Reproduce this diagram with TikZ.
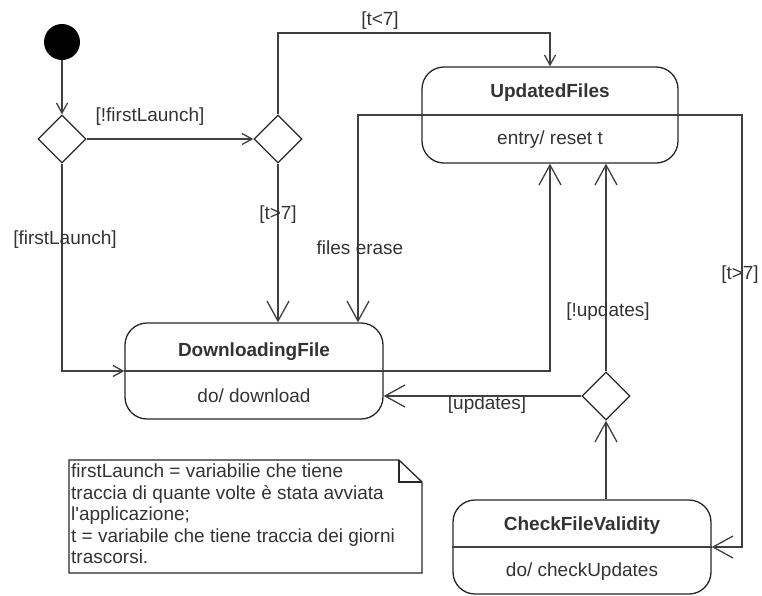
\documentclass[tikz,border=0pt]{standalone}
\usepackage{fontspec}
\setmainfont{Liberation Sans}[Ligatures=TeXOff]
\usetikzlibrary{arrows.meta,shapes.geometric,calc}
\begin{document}
\begin{tikzpicture}[x=1pt,y=-1pt,
  every node/.style={font=\fontsize{19}{21.5}\selectfont, text=black!80},
  line/.style={draw=black!75, line width=1.3pt},
  bigarrow/.style={line, -{Straight Barb[length=20pt,width=22pt,line width=1.3pt]}},
  smallarrow/.style={line, -{Straight Barb[length=10pt,width=11pt,line width=1.3pt]}},
  statebox/.style={draw=black!85, line width=1.3pt, rounded corners=22pt, minimum width=#1, minimum height=96pt, inner sep=0pt},
  choice/.style={diamond, draw=black!85, line width=1.3pt, minimum width=48pt, minimum height=48pt, inner sep=0pt},
  lbl/.style={inner sep=1pt}
]
\useasboundingbox (0,0) rectangle (762,595);

% initial state
\node[circle, fill=black, minimum size=36pt, inner sep=0pt] (init) at (62,42) {};

% decisions
\node[choice] (d1) at (62,139) {};
\node[choice] (d2) at (278,139) {};
\node[choice] (d3) at (606,396) {};

% states
\node[statebox=256pt] (upd) at (550,115) {};
\draw[line] (upd.west) -- (upd.east);
\node (updT) at (550,93) {\bfseries UpdatedFiles};
\node (updB) at (550,140) {entry/ reset t};

\node[statebox=258pt] (dl) at (254,371) {};
\draw[line] (dl.west) -- (dl.east);
\node (dlT) at (254,352) {\bfseries DownloadingFile};
\node (dlB) at (254,396) {do/ download};

\node[statebox=258pt, minimum height=94pt] (chk) at (582,547) {};
\draw[line] (chk.west) -- (chk.east);
\node (chkT) at (582,526) {\bfseries CheckFileValidity};
\node (chkB) at (582,572) {do/ checkUpdates};

% note
\draw[draw=black!85, line width=1.3pt] (69,460) -- (399,460) -- (422,482) -- (422,573) -- (69,573) -- cycle;
\draw[draw=black!85, line width=1.3pt] (399,460) -- (399,482) -- (422,482);
\node[anchor=north west, align=left, inner sep=0pt] (note) at (71,464)
  {firstLaunch = variabilie che tiene\\traccia di quante volte è stata avviata\\l'applicazione;\\t = variabile che tiene traccia dei giorni\\trascorsi.};

% helper coordinates
\coordinate (tl) at (278,33);
\coordinate (fe) at (358,115);
\coordinate (rx) at (742,300);

% connectors
\draw[smallarrow] (init) -- (d1.north);
\draw[smallarrow] (d1.east) -- (d2.west);
\draw[smallarrow] (d2.north) -- (tl) -| (upd.north);
\draw[smallarrow] (d1.south) |- (dl.west);
\draw[bigarrow] (d2.south) -- (d2.south |- dl.north);
\draw[bigarrow] (upd.west) -- (fe) -- (fe |- dl.north);
\draw[bigarrow] (dl.east) -| (upd.south);
\draw[bigarrow] (d3.north) -- (d3.north |- upd.south);
\draw[bigarrow] (d3.west) -- (d3.west -| dl.east);
\draw[bigarrow] (d3.south |- chk.north) -- (d3.south);
\draw[bigarrow] (upd.east) -| (rx) |- (chk.east);

% labels
\node[lbl] (l1) at (150,117) {[!firstLaunch]};
\node[lbl] (l2) at (380,21) {[t<7]};
\node[lbl] (l3) at (65,240) {[firstLaunch]};
\node[lbl] (l4) at (278,215) {[t>7]};
\node[lbl] (l5) at (360,248) {files erase};
\node[lbl] (l6) at (608,312) {[!updates]};
\node[lbl] (l7) at (740,275) {[t>7]};
\node[lbl] (l8) at (487,405) {[updates]};
\end{tikzpicture}
\end{document}
